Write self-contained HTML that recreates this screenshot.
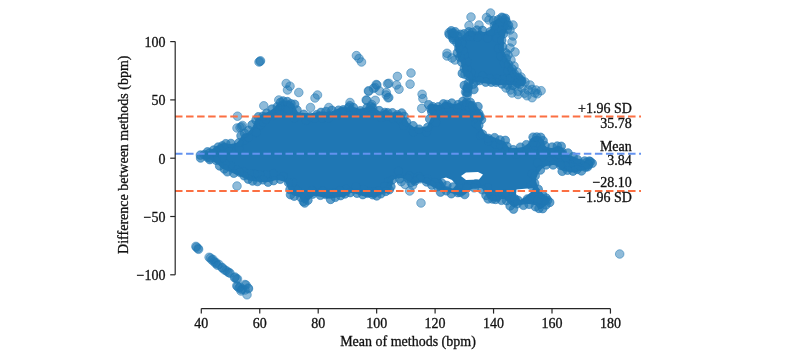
<!DOCTYPE html>
<html><head><meta charset="utf-8"><style>
html,body{margin:0;padding:0;background:#fff;width:800px;height:352px;overflow:hidden;}
svg{display:block;font-family:"Liberation Serif",serif;will-change:transform;}
</style></head><body>
<svg width="800" height="352" viewBox="0 0 800 352"><path d="M203.7,157.3 L211.1,160.1 L211.4,160.2 L211.7,160.4 L217.7,164.4 L218.0,164.6 L218.2,164.8 L221.8,168.4 L231.2,172.6 L241.2,176.6 L241.4,176.7 L248.9,180.5 L260.2,181.9 L269.6,181.9 L276.1,180.0 L276.5,179.9 L276.8,179.9 L277.1,179.9 L277.4,179.9 L277.8,180.0 L283.8,181.5 L284.1,181.6 L284.4,181.7 L284.6,181.8 L284.9,182.0 L285.1,182.2 L285.4,182.5 L285.6,182.7 L285.7,183.0 L285.9,183.3 L289.6,192.2 L292.6,195.2 L298.9,197.0 L299.1,197.1 L299.4,197.2 L299.7,197.4 L299.9,197.5 L300.2,197.7 L300.4,198.0 L300.5,198.2 L300.7,198.5 L303.5,203.4 L304.6,203.1 L308.1,200.5 L313.1,196.6 L313.3,196.4 L313.5,196.2 L313.8,196.1 L314.1,196.0 L314.4,195.9 L314.6,195.9 L314.9,195.9 L315.2,195.9 L315.5,195.9 L321.5,196.9 L321.7,197.0 L330.0,198.8 L338.3,197.0 L338.7,196.9 L339.0,196.9 L344.2,196.9 L350.5,193.3 L350.7,193.1 L351.0,193.0 L351.3,193.0 L351.6,192.9 L352.0,192.9 L352.3,192.9 L352.6,192.9 L352.9,193.0 L362.7,196.0 L368.5,196.9 L374.5,197.8 L381.6,194.2 L381.9,194.1 L382.1,194.0 L388.6,192.2 L391.2,190.2 L392.9,181.4 L393.0,181.1 L393.1,180.8 L393.2,180.5 L393.4,180.3 L393.6,180.0 L393.8,179.8 L394.0,179.6 L394.3,179.4 L394.5,179.2 L394.8,179.1 L395.1,179.0 L395.4,178.9 L400.4,177.9 L400.7,177.9 L401.0,177.9 L401.3,177.9 L401.6,177.9 L401.9,178.0 L402.2,178.1 L402.5,178.3 L414.1,184.5 L418.6,182.2 L418.9,182.1 L419.1,182.0 L419.4,181.9 L419.7,181.9 L420.0,181.9 L420.3,181.9 L420.6,181.9 L420.9,182.0 L421.2,182.1 L431.2,186.1 L431.4,186.2 L441.0,191.0 L450.6,192.9 L450.9,193.0 L460.0,195.7 L465.4,194.2 L469.8,189.8 L470.0,189.6 L470.2,189.4 L470.5,189.3 L470.8,189.1 L471.0,189.0 L471.3,189.0 L471.6,188.9 L479.6,187.9 L479.9,187.9 L480.2,187.9 L480.5,187.9 L480.8,188.0 L481.1,188.1 L481.4,188.2 L481.7,188.4 L481.9,188.5 L482.2,188.8 L482.4,189.0 L482.6,189.2 L482.7,189.5 L487.4,197.9 L491.2,201.0 L498.8,201.7 L500.8,199.8 L501.0,199.6 L501.3,199.4 L501.5,199.2 L501.8,199.1 L502.1,199.0 L502.4,198.9 L502.7,198.9 L503.0,198.9 L503.3,198.9 L503.6,198.9 L503.9,199.0 L504.2,199.1 L504.5,199.2 L504.7,199.4 L505.0,199.6 L505.2,199.8 L510.9,205.5 L514.1,207.4 L518.6,205.2 L518.9,205.1 L519.3,205.0 L519.6,204.9 L527.6,203.9 L527.9,203.9 L528.2,203.9 L528.5,203.9 L534.5,204.9 L534.8,205.0 L535.1,205.1 L535.4,205.2 L535.6,205.3 L535.9,205.5 L536.1,205.7 L536.3,205.9 L536.5,206.1 L538.6,208.9 L541.1,208.9 L546.0,205.6 L549.2,202.4 L549.8,200.0 L549.3,198.0 L545.4,195.7 L545.1,195.5 L544.8,195.2 L542.8,193.2 L542.6,192.9 L538.6,187.9 L538.4,187.7 L538.3,187.5 L538.1,187.2 L538.0,187.0 L536.0,181.0 L536.0,180.7 L535.9,180.4 L535.9,180.1 L535.9,179.8 L535.9,179.4 L536.0,179.1 L536.1,178.8 L538.1,173.8 L538.2,173.6 L538.3,173.4 L538.5,173.1 L541.5,169.1 L541.7,168.9 L542.0,168.6 L542.3,168.4 L545.3,166.4 L545.6,166.2 L545.9,166.1 L546.2,166.0 L546.5,165.9 L552.5,164.9 L552.8,164.9 L553.1,164.9 L553.4,164.9 L553.7,165.0 L554.0,165.0 L557.0,166.0 L557.3,166.1 L557.5,166.3 L557.8,166.4 L558.0,166.6 L558.2,166.8 L558.4,167.0 L558.6,167.3 L560.1,169.6 L562.9,171.0 L569.4,171.9 L569.5,171.9 L574.7,172.8 L580.0,171.0 L580.2,171.0 L587.3,169.2 L591.6,164.0 L591.8,163.8 L593.3,162.3 L590.4,161.1 L585.0,161.1 L584.7,161.1 L584.4,161.1 L584.1,161.0 L583.8,160.9 L578.8,158.9 L578.6,158.8 L574.8,156.9 L569.0,155.0 L568.7,154.9 L568.5,154.7 L568.2,154.6 L568.0,154.4 L567.8,154.2 L567.6,153.9 L563.7,149.1 L561.2,146.7 L558.1,145.4 L553.4,147.8 L553.1,147.9 L552.8,148.0 L552.5,148.1 L552.2,148.1 L551.9,148.1 L551.6,148.1 L551.2,148.0 L547.2,147.0 L546.9,146.9 L546.6,146.8 L546.4,146.7 L546.1,146.5 L545.9,146.3 L545.6,146.0 L545.4,145.8 L545.3,145.5 L545.1,145.2 L545.0,144.9 L544.9,144.6 L544.1,140.5 L542.0,138.4 L539.0,136.1 L534.7,136.1 L532.1,137.4 L528.6,142.7 L528.4,143.0 L528.1,143.3 L527.9,143.5 L523.9,146.5 L523.6,146.7 L523.4,146.8 L523.1,146.9 L522.8,147.0 L522.5,147.1 L516.5,148.1 L516.3,148.1 L516.0,148.1 L511.0,148.1 L510.7,148.1 L510.4,148.1 L510.1,148.0 L509.8,147.9 L509.5,147.8 L509.3,147.6 L509.0,147.4 L508.8,147.2 L508.6,147.0 L508.4,146.7 L504.9,141.5 L485.8,133.9 L485.5,133.8 L485.3,133.6 L485.0,133.4 L484.8,133.2 L484.6,132.9 L484.4,132.7 L484.2,132.4 L481.2,126.4 L481.1,126.1 L481.0,125.8 L480.9,125.5 L480.9,125.2 L480.9,124.8 L480.9,124.5 L481.0,124.2 L481.1,123.9 L483.7,117.0 L482.2,113.5 L477.5,106.9 L473.2,101.7 L465.3,99.3 L456.4,103.8 L456.1,103.9 L455.8,104.0 L455.6,104.1 L455.3,104.1 L455.0,104.1 L454.7,104.1 L454.4,104.1 L454.1,104.0 L445.5,101.4 L440.7,104.6 L440.5,104.8 L440.2,104.9 L439.8,105.0 L439.5,105.1 L439.2,105.1 L438.9,105.1 L438.6,105.1 L432.4,104.2 L429.4,105.4 L428.3,108.1 L431.0,116.0 L431.0,116.3 L431.1,116.6 L431.1,116.9 L431.1,117.2 L431.1,117.5 L431.0,117.8 L430.9,118.0 L430.8,118.3 L427.8,124.8 L427.7,125.1 L427.5,125.3 L427.4,125.5 L427.2,125.8 L426.9,125.9 L426.7,126.1 L426.4,126.3 L426.2,126.4 L425.9,126.5 L425.6,126.6 L420.6,127.6 L420.3,127.6 L420.0,127.6 L419.7,127.6 L414.7,127.1 L414.4,127.1 L414.1,127.0 L413.9,126.9 L413.6,126.8 L413.4,126.7 L413.1,126.5 L409.1,123.5 L408.9,123.3 L408.7,123.1 L408.5,122.9 L408.3,122.6 L405.4,117.7 L402.8,113.8 L399.3,111.7 L391.3,112.6 L391.0,112.6 L390.7,112.6 L390.4,112.6 L390.1,112.5 L389.8,112.4 L389.5,112.3 L389.3,112.1 L389.0,111.9 L388.8,111.7 L386.4,109.3 L382.4,111.3 L382.1,111.4 L381.8,111.5 L381.5,111.6 L381.2,111.6 L380.9,111.6 L380.5,111.6 L380.2,111.5 L379.9,111.4 L379.6,111.3 L379.3,111.1 L379.1,111.0 L371.6,105.2 L367.4,107.3 L367.1,107.4 L366.8,107.5 L366.5,107.6 L360.5,108.6 L360.2,108.6 L360.0,108.6 L359.7,108.6 L359.4,108.6 L359.1,108.5 L352.1,106.5 L351.9,106.4 L351.6,106.3 L351.4,106.2 L351.1,106.0 L349.6,104.9 L348.5,106.4 L348.3,106.6 L348.1,106.8 L347.8,107.0 L347.5,107.2 L347.2,107.4 L346.9,107.5 L346.6,107.6 L346.3,107.6 L346.0,107.6 L340.6,107.6 L331.2,111.4 L330.9,111.5 L330.6,111.6 L330.3,111.6 L330.0,111.6 L320.3,111.6 L310.6,113.6 L310.3,113.6 L310.0,113.6 L309.7,113.6 L299.7,112.6 L299.4,112.6 L299.1,112.5 L298.8,112.4 L298.5,112.2 L298.2,112.1 L298.0,111.9 L297.8,111.7 L297.5,111.4 L297.4,111.2 L297.2,110.9 L293.6,103.6 L289.1,100.6 L281.1,100.6 L277.3,103.7 L274.5,107.4 L274.3,107.6 L274.1,107.8 L273.9,108.0 L269.9,111.0 L269.6,111.2 L269.3,111.3 L269.0,111.5 L263.3,113.4 L258.9,116.0 L255.7,119.3 L252.9,126.2 L252.8,126.4 L252.6,126.7 L252.4,126.9 L248.4,131.9 L248.2,132.2 L248.0,132.4 L247.8,132.6 L247.5,132.7 L247.2,132.9 L246.9,133.0 L246.6,133.1 L243.0,133.8 L240.7,137.6 L240.5,137.9 L237.5,141.9 L237.3,142.1 L237.1,142.3 L236.8,142.5 L236.5,142.7 L236.2,142.9 L235.9,143.0 L235.6,143.1 L230.6,144.1 L230.3,144.1 L230.1,144.1 L229.8,144.1 L229.5,144.1 L229.2,144.0 L224.1,142.7 L220.3,143.9 L215.7,146.6 L211.9,149.5 L211.6,149.7 L206.9,152.5 L203.4,156.0 L203.0,156.6 Z M466.0,172.5 L478.0,172.0 L483.0,174.5 L479.0,179.5 L466.0,180.0 L461.0,176.0 Z M533.0,188.0 L531.0,192.0 L525.0,197.0 L520.0,200.0 L516.0,195.0 L516.5,189.5 Z M446.0,177.5 L452.0,180.0 L456.0,185.0 L453.0,188.5 L446.0,187.0 L441.0,179.0 Z" fill="#1f77b4" fill-rule="evenodd"/><path d="M450.6,32.4 L450.1,33.3 L452.9,35.6 L453.2,35.8 L453.4,36.0 L453.6,36.2 L453.7,36.5 L453.9,36.7 L454.0,37.0 L454.0,37.3 L454.1,37.6 L455.1,45.5 L456.1,51.4 L457.9,58.6 L460.5,62.1 L460.7,62.4 L460.8,62.6 L460.9,62.9 L461.0,63.2 L461.1,63.5 L462.0,69.3 L463.7,75.2 L467.9,78.6 L468.2,78.8 L468.4,79.0 L468.6,79.2 L468.7,79.5 L468.9,79.7 L469.0,80.0 L469.0,80.3 L469.1,80.6 L469.1,80.9 L469.1,81.2 L469.1,81.5 L468.1,87.5 L468.1,87.6 L467.3,91.6 L467.7,92.4 L467.7,92.4 L469.1,88.8 L469.2,88.6 L469.4,88.3 L469.6,88.1 L473.6,83.1 L473.8,82.8 L474.0,82.6 L474.2,82.4 L474.5,82.3 L474.7,82.1 L475.0,82.0 L475.3,82.0 L475.6,81.9 L475.9,81.9 L476.2,81.9 L476.5,81.9 L482.5,82.9 L496.2,84.9 L517.6,84.9 L523.7,83.4 L524.4,81.5 L521.6,78.0 L516.6,72.0 L516.5,71.8 L511.5,64.8 L511.4,64.7 L507.4,58.7 L507.3,58.5 L507.1,58.2 L504.1,51.2 L504.0,50.9 L503.9,50.6 L503.9,50.3 L503.9,50.0 L503.9,40.0 L503.9,39.7 L503.9,39.4 L504.0,39.1 L506.0,32.1 L506.1,31.9 L506.2,31.6 L508.8,26.5 L508.1,21.5 L504.7,18.1 L498.8,18.1 L493.5,21.2 L490.9,28.1 L490.8,28.4 L490.7,28.6 L490.5,28.9 L490.3,29.1 L490.1,29.3 L489.9,29.5 L489.6,29.6 L489.4,29.8 L485.4,31.8 L485.1,31.9 L484.8,32.0 L484.5,32.1 L484.2,32.1 L483.9,32.1 L483.5,32.1 L483.2,32.0 L482.9,31.9 L482.6,31.8 L482.3,31.6 L479.8,30.1 L477.4,31.3 L477.1,31.4 L476.8,31.5 L476.5,31.6 L476.2,31.6 L475.9,31.6 L475.6,31.6 L475.3,31.5 L475.0,31.5 L470.2,29.9 L466.8,31.6 L462.2,36.2 L462.0,36.4 L461.7,36.6 L461.5,36.8 L461.2,36.9 L460.9,37.0 L460.6,37.1 L460.3,37.1 L460.0,37.1 L459.7,37.1 L459.4,37.1 L459.1,37.0 L458.8,36.9 L458.5,36.8 L458.3,36.6 L458.0,36.4 L457.8,36.2 L454.5,32.9 Z" fill="#1f77b4" fill-rule="evenodd"/><g fill="#1f77b4" fill-opacity="0.7" stroke="#1f77b4" stroke-opacity="0.6" stroke-width="1"><circle cx="207.4" cy="157.3" r="4.3"/><circle cx="210.0" cy="158.0" r="4.3"/><circle cx="213.9" cy="153.5" r="4.3"/><circle cx="219.7" cy="150.6" r="4.3"/><circle cx="223.3" cy="150.4" r="4.3"/><circle cx="228.1" cy="148.9" r="4.3"/><circle cx="239.1" cy="148.4" r="4.3"/><circle cx="244.8" cy="140.1" r="4.3"/><circle cx="248.5" cy="137.5" r="4.3"/><circle cx="256.2" cy="132.5" r="4.3"/><circle cx="260.8" cy="125.0" r="4.3"/><circle cx="262.8" cy="122.3" r="4.3"/><circle cx="265.9" cy="119.4" r="4.3"/><circle cx="273.1" cy="115.3" r="4.3"/><circle cx="279.7" cy="110.6" r="4.3"/><circle cx="282.3" cy="106.6" r="4.3"/><circle cx="285.6" cy="107.1" r="4.3"/><circle cx="287.6" cy="108.6" r="4.3"/><circle cx="288.7" cy="109.4" r="4.3"/><circle cx="294.3" cy="118.0" r="4.3"/><circle cx="306.1" cy="120.3" r="4.3"/><circle cx="314.5" cy="118.5" r="4.3"/><circle cx="322.1" cy="118.1" r="4.3"/><circle cx="328.7" cy="118.0" r="4.3"/><circle cx="337.0" cy="115.4" r="4.3"/><circle cx="343.1" cy="111.4" r="4.3"/><circle cx="348.4" cy="113.2" r="4.3"/><circle cx="350.2" cy="113.8" r="4.3"/><circle cx="356.9" cy="113.7" r="4.3"/><circle cx="367.0" cy="111.9" r="4.3"/><circle cx="370.5" cy="110.5" r="4.3"/><circle cx="372.4" cy="115.3" r="4.3"/><circle cx="381.4" cy="117.6" r="4.3"/><circle cx="387.8" cy="116.5" r="4.3"/><circle cx="393.5" cy="118.8" r="4.3"/><circle cx="398.0" cy="118.2" r="4.3"/><circle cx="400.1" cy="119.9" r="4.3"/><circle cx="403.6" cy="125.6" r="4.3"/><circle cx="413.2" cy="131.9" r="4.3"/><circle cx="426.7" cy="132.1" r="4.3"/><circle cx="435.9" cy="122.5" r="4.3"/><circle cx="435.5" cy="112.2" r="4.3"/><circle cx="432.5" cy="108.8" r="4.3"/><circle cx="433.8" cy="111.4" r="4.3"/><circle cx="438.8" cy="110.8" r="4.3"/><circle cx="444.7" cy="107.6" r="4.3"/><circle cx="448.9" cy="108.2" r="4.3"/><circle cx="457.8" cy="108.2" r="4.3"/><circle cx="464.3" cy="105.9" r="4.3"/><circle cx="467.2" cy="105.4" r="4.3"/><circle cx="469.4" cy="107.4" r="4.3"/><circle cx="473.6" cy="110.3" r="4.3"/><circle cx="474.9" cy="115.7" r="4.3"/><circle cx="477.9" cy="117.3" r="4.3"/><circle cx="475.8" cy="123.4" r="4.3"/><circle cx="480.6" cy="135.7" r="4.3"/><circle cx="488.7" cy="141.0" r="4.3"/><circle cx="495.8" cy="144.5" r="4.3"/><circle cx="500.6" cy="145.3" r="4.3"/><circle cx="505.3" cy="150.5" r="4.3"/><circle cx="516.1" cy="154.4" r="4.3"/><circle cx="526.2" cy="151.0" r="4.3"/><circle cx="535.5" cy="145.7" r="4.3"/><circle cx="537.5" cy="142.9" r="4.3"/><circle cx="537.3" cy="142.7" r="4.3"/><circle cx="537.7" cy="142.7" r="4.3"/><circle cx="542.0" cy="149.5" r="4.3"/><circle cx="554.2" cy="152.1" r="4.3"/><circle cx="558.1" cy="153.4" r="4.3"/><circle cx="559.2" cy="154.4" r="4.3"/><circle cx="566.1" cy="157.9" r="4.3"/><circle cx="573.8" cy="162.3" r="4.3"/><circle cx="581.3" cy="165.9" r="4.3"/><circle cx="587.6" cy="166.8" r="4.3"/><circle cx="588.4" cy="164.3" r="4.3"/><circle cx="586.9" cy="162.2" r="4.3"/><circle cx="585.2" cy="165.3" r="4.3"/><circle cx="580.2" cy="163.4" r="4.3"/><circle cx="575.5" cy="165.6" r="4.3"/><circle cx="570.0" cy="166.7" r="4.3"/><circle cx="565.5" cy="166.1" r="4.3"/><circle cx="559.6" cy="162.9" r="4.3"/><circle cx="549.7" cy="161.0" r="4.3"/><circle cx="537.4" cy="162.9" r="4.3"/><circle cx="532.0" cy="173.7" r="4.3"/><circle cx="530.9" cy="185.3" r="4.3"/><circle cx="536.9" cy="193.7" r="4.3"/><circle cx="542.0" cy="200.2" r="4.3"/><circle cx="544.6" cy="200.3" r="4.3"/><circle cx="543.3" cy="199.8" r="4.3"/><circle cx="540.6" cy="201.0" r="4.3"/><circle cx="540.3" cy="203.6" r="4.3"/><circle cx="537.7" cy="199.9" r="4.3"/><circle cx="527.4" cy="199.0" r="4.3"/><circle cx="518.0" cy="200.4" r="4.3"/><circle cx="515.2" cy="200.6" r="4.3"/><circle cx="515.0" cy="198.9" r="4.3"/><circle cx="504.8" cy="193.8" r="4.3"/><circle cx="496.7" cy="195.6" r="4.3"/><circle cx="494.3" cy="195.1" r="4.3"/><circle cx="491.1" cy="194.2" r="4.3"/><circle cx="487.6" cy="187.6" r="4.3"/><circle cx="475.9" cy="184.0" r="4.3"/><circle cx="465.8" cy="187.0" r="4.3"/><circle cx="462.2" cy="190.4" r="4.3"/><circle cx="459.4" cy="188.4" r="4.3"/><circle cx="453.1" cy="187.0" r="4.3"/><circle cx="446.9" cy="185.5" r="4.3"/><circle cx="441.8" cy="183.1" r="4.3"/><circle cx="435.1" cy="182.3" r="4.3"/><circle cx="427.0" cy="178.7" r="4.3"/><circle cx="418.7" cy="176.2" r="4.3"/><circle cx="413.5" cy="178.3" r="4.3"/><circle cx="409.4" cy="175.7" r="4.3"/><circle cx="398.5" cy="171.1" r="4.3"/><circle cx="388.5" cy="181.5" r="4.3"/><circle cx="386.1" cy="186.4" r="4.3"/><circle cx="384.6" cy="186.4" r="4.3"/><circle cx="378.8" cy="190.9" r="4.3"/><circle cx="373.6" cy="192.1" r="4.3"/><circle cx="369.3" cy="191.6" r="4.3"/><circle cx="363.4" cy="189.4" r="4.3"/><circle cx="356.0" cy="186.9" r="4.3"/><circle cx="346.0" cy="189.0" r="4.3"/><circle cx="339.8" cy="190.5" r="4.3"/><circle cx="334.2" cy="193.1" r="4.3"/><circle cx="328.5" cy="193.3" r="4.3"/><circle cx="322.6" cy="190.9" r="4.3"/><circle cx="312.2" cy="190.6" r="4.3"/><circle cx="304.1" cy="195.2" r="4.3"/><circle cx="304.9" cy="198.3" r="4.3"/><circle cx="305.0" cy="195.6" r="4.3"/><circle cx="297.7" cy="190.7" r="4.3"/><circle cx="295.4" cy="189.0" r="4.3"/><circle cx="292.8" cy="182.4" r="4.3"/><circle cx="283.2" cy="176.3" r="4.3"/><circle cx="273.3" cy="173.5" r="4.3"/><circle cx="265.8" cy="174.7" r="4.3"/><circle cx="259.9" cy="174.7" r="4.3"/><circle cx="254.4" cy="174.0" r="4.3"/><circle cx="249.5" cy="173.2" r="4.3"/><circle cx="243.3" cy="171.6" r="4.3"/><circle cx="236.6" cy="169.8" r="4.3"/><circle cx="230.5" cy="165.6" r="4.3"/><circle cx="225.3" cy="163.7" r="4.3"/><circle cx="222.1" cy="157.9" r="4.3"/><circle cx="214.0" cy="153.8" r="4.3"/><circle cx="207.5" cy="151.9" r="4.3"/><circle cx="452.8" cy="37.7" r="4.3"/><circle cx="453.3" cy="39.5" r="4.3"/><circle cx="461.8" cy="42.2" r="4.3"/><circle cx="470.2" cy="36.4" r="4.3"/><circle cx="473.1" cy="36.8" r="4.3"/><circle cx="477.7" cy="37.0" r="4.3"/><circle cx="487.5" cy="38.1" r="4.3"/><circle cx="495.5" cy="28.7" r="4.3"/><circle cx="499.1" cy="25.2" r="4.3"/><circle cx="500.8" cy="23.4" r="4.3"/><circle cx="503.3" cy="22.5" r="4.3"/><circle cx="503.0" cy="24.0" r="4.3"/><circle cx="503.5" cy="26.1" r="4.3"/><circle cx="501.7" cy="30.1" r="4.3"/><circle cx="497.0" cy="38.3" r="4.3"/><circle cx="498.3" cy="48.2" r="4.3"/><circle cx="500.8" cy="56.2" r="4.3"/><circle cx="504.1" cy="63.6" r="4.3"/><circle cx="507.9" cy="70.9" r="4.3"/><circle cx="513.4" cy="76.5" r="4.3"/><circle cx="516.4" cy="82.3" r="4.3"/><circle cx="519.4" cy="80.9" r="4.3"/><circle cx="519.0" cy="78.2" r="4.3"/><circle cx="515.9" cy="79.1" r="4.3"/><circle cx="509.9" cy="78.5" r="4.3"/><circle cx="502.5" cy="79.3" r="4.3"/><circle cx="496.7" cy="78.6" r="4.3"/><circle cx="490.1" cy="78.5" r="4.3"/><circle cx="482.4" cy="75.9" r="4.3"/><circle cx="470.4" cy="77.5" r="4.3"/><circle cx="464.3" cy="85.4" r="4.3"/><circle cx="468.3" cy="87.0" r="4.3"/><circle cx="473.9" cy="89.5" r="4.3"/><circle cx="476.4" cy="80.9" r="4.3"/><circle cx="471.2" cy="72.7" r="4.3"/><circle cx="467.5" cy="68.7" r="4.3"/><circle cx="467.3" cy="61.5" r="4.3"/><circle cx="464.5" cy="54.7" r="4.3"/><circle cx="463.2" cy="50.6" r="4.3"/><circle cx="461.9" cy="43.7" r="4.3"/><circle cx="460.5" cy="34.3" r="4.3"/><circle cx="455.2" cy="31.8" r="4.3"/><circle cx="200.6" cy="158.0" r="4.3"/><circle cx="204.1" cy="154.7" r="4.3"/><circle cx="209.5" cy="153.0" r="4.3"/><circle cx="213.5" cy="150.1" r="4.3"/><circle cx="218.2" cy="147.1" r="4.3"/><circle cx="222.4" cy="145.9" r="4.3"/><circle cx="225.8" cy="143.7" r="4.3"/><circle cx="230.9" cy="143.5" r="4.3"/><circle cx="238.9" cy="142.8" r="4.3"/><circle cx="241.0" cy="135.7" r="4.3"/><circle cx="244.5" cy="133.2" r="4.3"/><circle cx="248.7" cy="130.3" r="4.3"/><circle cx="252.0" cy="124.9" r="4.3"/><circle cx="256.0" cy="120.2" r="4.3"/><circle cx="258.4" cy="116.8" r="4.3"/><circle cx="263.0" cy="116.3" r="4.3"/><circle cx="266.8" cy="113.2" r="4.3"/><circle cx="272.0" cy="109.1" r="4.3"/><circle cx="277.3" cy="106.8" r="4.3"/><circle cx="280.6" cy="102.3" r="4.3"/><circle cx="283.1" cy="101.0" r="4.3"/><circle cx="287.3" cy="101.6" r="4.3"/><circle cx="291.0" cy="103.8" r="4.3"/><circle cx="294.6" cy="104.3" r="4.3"/><circle cx="297.0" cy="110.0" r="4.3"/><circle cx="303.8" cy="114.3" r="4.3"/><circle cx="310.0" cy="116.9" r="4.3"/><circle cx="316.7" cy="114.7" r="4.3"/><circle cx="321.0" cy="112.4" r="4.3"/><circle cx="325.9" cy="111.5" r="4.3"/><circle cx="331.9" cy="110.3" r="4.3"/><circle cx="338.6" cy="110.2" r="4.3"/><circle cx="343.2" cy="109.9" r="4.3"/><circle cx="348.7" cy="107.5" r="4.3"/><circle cx="349.8" cy="105.7" r="4.3"/><circle cx="353.4" cy="107.6" r="4.3"/><circle cx="360.4" cy="110.8" r="4.3"/><circle cx="367.0" cy="107.7" r="4.3"/><circle cx="370.5" cy="107.1" r="4.3"/><circle cx="372.8" cy="108.1" r="4.3"/><circle cx="379.2" cy="110.6" r="4.3"/><circle cx="384.9" cy="112.5" r="4.3"/><circle cx="387.6" cy="112.7" r="4.3"/><circle cx="392.4" cy="112.8" r="4.3"/><circle cx="397.5" cy="114.7" r="4.3"/><circle cx="401.7" cy="113.0" r="4.3"/><circle cx="404.1" cy="116.3" r="4.3"/><circle cx="406.5" cy="122.0" r="4.3"/><circle cx="413.1" cy="125.7" r="4.3"/><circle cx="419.1" cy="129.2" r="4.3"/><circle cx="427.7" cy="127.4" r="4.3"/><circle cx="429.7" cy="118.9" r="4.3"/><circle cx="431.8" cy="112.0" r="4.3"/><circle cx="430.9" cy="108.9" r="4.3"/><circle cx="428.7" cy="104.7" r="4.3"/><circle cx="432.8" cy="106.7" r="4.3"/><circle cx="438.2" cy="106.8" r="4.3"/><circle cx="443.4" cy="103.9" r="4.3"/><circle cx="446.9" cy="104.5" r="4.3"/><circle cx="451.8" cy="103.1" r="4.3"/><circle cx="458.1" cy="104.6" r="4.3"/><circle cx="462.9" cy="101.4" r="4.3"/><circle cx="466.7" cy="102.0" r="4.3"/><circle cx="470.2" cy="102.3" r="4.3"/><circle cx="472.5" cy="105.7" r="4.3"/><circle cx="478.0" cy="106.6" r="4.3"/><circle cx="478.8" cy="113.5" r="4.3"/><circle cx="480.3" cy="116.7" r="4.3"/><circle cx="481.5" cy="119.6" r="4.3"/><circle cx="478.8" cy="125.4" r="4.3"/><circle cx="482.5" cy="134.2" r="4.3"/><circle cx="488.3" cy="138.4" r="4.3"/><circle cx="494.6" cy="137.7" r="4.3"/><circle cx="500.0" cy="140.0" r="4.3"/><circle cx="505.3" cy="140.4" r="4.3"/><circle cx="507.0" cy="146.4" r="4.3"/><circle cx="513.2" cy="149.7" r="4.3"/><circle cx="520.4" cy="147.2" r="4.3"/><circle cx="526.4" cy="144.7" r="4.3"/><circle cx="533.1" cy="142.6" r="4.3"/><circle cx="533.1" cy="137.2" r="4.3"/><circle cx="536.8" cy="137.1" r="4.3"/><circle cx="540.6" cy="137.3" r="4.3"/><circle cx="543.1" cy="140.7" r="4.3"/><circle cx="545.0" cy="145.7" r="4.3"/><circle cx="552.1" cy="147.1" r="4.3"/><circle cx="557.3" cy="146.1" r="4.3"/><circle cx="561.2" cy="146.3" r="4.3"/><circle cx="562.2" cy="152.2" r="4.3"/><circle cx="568.0" cy="153.0" r="4.3"/><circle cx="573.2" cy="156.7" r="4.3"/><circle cx="577.6" cy="159.7" r="4.3"/><circle cx="584.7" cy="161.0" r="4.3"/><circle cx="589.4" cy="161.1" r="4.3"/><circle cx="592.2" cy="163.3" r="4.3"/><circle cx="590.3" cy="161.8" r="4.3"/><circle cx="588.5" cy="164.8" r="4.3"/><circle cx="585.5" cy="167.1" r="4.3"/><circle cx="581.5" cy="170.9" r="4.3"/><circle cx="577.0" cy="169.4" r="4.3"/><circle cx="573.0" cy="171.1" r="4.3"/><circle cx="567.5" cy="170.2" r="4.3"/><circle cx="562.2" cy="171.3" r="4.3"/><circle cx="560.5" cy="165.3" r="4.3"/><circle cx="553.1" cy="164.9" r="4.3"/><circle cx="546.1" cy="164.9" r="4.3"/><circle cx="540.4" cy="170.0" r="4.3"/><circle cx="535.2" cy="175.8" r="4.3"/><circle cx="534.6" cy="183.1" r="4.3"/><circle cx="538.2" cy="189.2" r="4.3"/><circle cx="542.4" cy="194.6" r="4.3"/><circle cx="546.2" cy="198.1" r="4.3"/><circle cx="547.6" cy="200.3" r="4.3"/><circle cx="549.7" cy="202.4" r="4.3"/><circle cx="546.0" cy="204.9" r="4.3"/><circle cx="542.7" cy="208.6" r="4.3"/><circle cx="539.0" cy="208.4" r="4.3"/><circle cx="535.4" cy="206.7" r="4.3"/><circle cx="529.1" cy="204.3" r="4.3"/><circle cx="523.5" cy="205.3" r="4.3"/><circle cx="517.0" cy="203.8" r="4.3"/><circle cx="513.5" cy="209.1" r="4.3"/><circle cx="510.1" cy="205.9" r="4.3"/><circle cx="506.6" cy="200.6" r="4.3"/><circle cx="501.5" cy="200.3" r="4.3"/><circle cx="495.6" cy="199.4" r="4.3"/><circle cx="492.5" cy="199.0" r="4.3"/><circle cx="488.2" cy="198.9" r="4.3"/><circle cx="486.0" cy="195.4" r="4.3"/><circle cx="482.2" cy="189.8" r="4.3"/><circle cx="474.2" cy="187.8" r="4.3"/><circle cx="467.0" cy="187.8" r="4.3"/><circle cx="464.7" cy="194.5" r="4.3"/><circle cx="460.3" cy="192.4" r="4.3"/><circle cx="457.9" cy="192.6" r="4.3"/><circle cx="451.3" cy="193.7" r="4.3"/><circle cx="446.4" cy="190.8" r="4.3"/><circle cx="440.5" cy="192.1" r="4.3"/><circle cx="437.4" cy="186.7" r="4.3"/><circle cx="431.8" cy="185.1" r="4.3"/><circle cx="426.6" cy="181.9" r="4.3"/><circle cx="419.9" cy="178.8" r="4.3"/><circle cx="414.8" cy="181.1" r="4.3"/><circle cx="411.0" cy="182.4" r="4.3"/><circle cx="407.8" cy="178.2" r="4.3"/><circle cx="399.8" cy="178.9" r="4.3"/><circle cx="392.1" cy="180.0" r="4.3"/><circle cx="390.9" cy="186.6" r="4.3"/><circle cx="389.3" cy="189.7" r="4.3"/><circle cx="385.7" cy="191.4" r="4.3"/><circle cx="380.9" cy="193.7" r="4.3"/><circle cx="376.7" cy="195.9" r="4.3"/><circle cx="372.7" cy="194.7" r="4.3"/><circle cx="367.6" cy="193.3" r="4.3"/><circle cx="362.8" cy="194.6" r="4.3"/><circle cx="357.0" cy="193.2" r="4.3"/><circle cx="350.2" cy="192.6" r="4.3"/><circle cx="345.0" cy="193.9" r="4.3"/><circle cx="340.6" cy="195.6" r="4.3"/><circle cx="335.3" cy="197.3" r="4.3"/><circle cx="330.6" cy="199.4" r="4.3"/><circle cx="325.9" cy="194.5" r="4.3"/><circle cx="320.4" cy="195.3" r="4.3"/><circle cx="312.6" cy="194.1" r="4.3"/><circle cx="307.9" cy="200.2" r="4.3"/><circle cx="304.7" cy="203.0" r="4.3"/><circle cx="303.4" cy="201.4" r="4.3"/><circle cx="300.8" cy="197.3" r="4.3"/><circle cx="294.2" cy="196.1" r="4.3"/><circle cx="290.5" cy="194.7" r="4.3"/><circle cx="290.0" cy="189.6" r="4.3"/><circle cx="288.5" cy="182.6" r="4.3"/><circle cx="280.2" cy="179.3" r="4.3"/><circle cx="273.6" cy="180.6" r="4.3"/><circle cx="268.1" cy="182.1" r="4.3"/><circle cx="262.9" cy="179.8" r="4.3"/><circle cx="257.5" cy="181.5" r="4.3"/><circle cx="252.6" cy="181.0" r="4.3"/><circle cx="248.3" cy="179.1" r="4.3"/><circle cx="244.1" cy="175.7" r="4.3"/><circle cx="239.7" cy="172.2" r="4.3"/><circle cx="233.8" cy="173.2" r="4.3"/><circle cx="227.3" cy="171.8" r="4.3"/><circle cx="224.3" cy="168.9" r="4.3"/><circle cx="219.6" cy="165.9" r="4.3"/><circle cx="216.1" cy="160.3" r="4.3"/><circle cx="209.8" cy="159.6" r="4.3"/><circle cx="206.3" cy="155.4" r="4.3"/><circle cx="200.4" cy="155.1" r="4.3"/><circle cx="449.2" cy="34.4" r="4.3"/><circle cx="452.4" cy="35.5" r="4.3"/><circle cx="458.0" cy="36.2" r="4.3"/><circle cx="464.1" cy="33.8" r="4.3"/><circle cx="468.8" cy="31.8" r="4.3"/><circle cx="472.3" cy="32.4" r="4.3"/><circle cx="476.9" cy="30.1" r="4.3"/><circle cx="482.5" cy="30.4" r="4.3"/><circle cx="490.2" cy="31.8" r="4.3"/><circle cx="494.4" cy="25.7" r="4.3"/><circle cx="493.5" cy="20.5" r="4.3"/><circle cx="498.4" cy="19.7" r="4.3"/><circle cx="501.8" cy="17.3" r="4.3"/><circle cx="505.4" cy="18.3" r="4.3"/><circle cx="506.3" cy="21.7" r="4.3"/><circle cx="508.6" cy="25.3" r="4.3"/><circle cx="507.5" cy="29.1" r="4.3"/><circle cx="503.7" cy="33.7" r="4.3"/><circle cx="501.7" cy="40.3" r="4.3"/><circle cx="502.6" cy="46.6" r="4.3"/><circle cx="505.8" cy="52.8" r="4.3"/><circle cx="506.3" cy="58.5" r="4.3"/><circle cx="508.3" cy="64.3" r="4.3"/><circle cx="512.2" cy="68.9" r="4.3"/><circle cx="514.4" cy="73.8" r="4.3"/><circle cx="518.7" cy="78.1" r="4.3"/><circle cx="521.7" cy="80.8" r="4.3"/><circle cx="521.7" cy="81.6" r="4.3"/><circle cx="520.7" cy="81.6" r="4.3"/><circle cx="517.7" cy="83.1" r="4.3"/><circle cx="512.7" cy="85.5" r="4.3"/><circle cx="507.4" cy="85.1" r="4.3"/><circle cx="502.0" cy="84.0" r="4.3"/><circle cx="496.0" cy="82.2" r="4.3"/><circle cx="491.4" cy="82.2" r="4.3"/><circle cx="485.7" cy="82.1" r="4.3"/><circle cx="479.6" cy="80.5" r="4.3"/><circle cx="473.4" cy="84.1" r="4.3"/><circle cx="467.0" cy="88.0" r="4.3"/><circle cx="467.7" cy="92.6" r="4.3"/><circle cx="466.6" cy="92.4" r="4.3"/><circle cx="467.7" cy="88.4" r="4.3"/><circle cx="468.3" cy="83.3" r="4.3"/><circle cx="468.2" cy="75.8" r="4.3"/><circle cx="462.3" cy="73.4" r="4.3"/><circle cx="464.3" cy="68.6" r="4.3"/><circle cx="461.7" cy="62.1" r="4.3"/><circle cx="460.0" cy="57.1" r="4.3"/><circle cx="457.3" cy="52.9" r="4.3"/><circle cx="458.9" cy="48.0" r="4.3"/><circle cx="456.9" cy="42.7" r="4.3"/><circle cx="455.0" cy="35.2" r="4.3"/><circle cx="452.2" cy="33.0" r="4.3"/><circle cx="451.3" cy="30.8" r="4.3"/></g><g fill="#1f77b4" fill-opacity="0.5" stroke="#1f77b4" stroke-opacity="0.5" stroke-width="1"><circle cx="260.0" cy="61.5" r="4.3"/><circle cx="465.5" cy="92.0" r="4.3"/><circle cx="467.0" cy="95.5" r="4.3"/><circle cx="510.4" cy="90.0" r="4.3"/><circle cx="518.1" cy="91.3" r="4.3"/><circle cx="518.1" cy="94.5" r="4.3"/><circle cx="524.5" cy="93.2" r="4.3"/><circle cx="527.0" cy="95.8" r="4.3"/><circle cx="532.1" cy="89.4" r="4.3"/><circle cx="532.1" cy="97.7" r="4.3"/><circle cx="537.3" cy="93.8" r="4.3"/><circle cx="541.1" cy="90.7" r="4.3"/><circle cx="536.0" cy="90.0" r="4.3"/><circle cx="528.0" cy="90.0" r="4.3"/><circle cx="522.0" cy="88.0" r="4.3"/><circle cx="515.0" cy="86.0" r="4.3"/><circle cx="525.0" cy="82.0" r="4.3"/><circle cx="521.0" cy="77.0" r="4.3"/><circle cx="517.0" cy="72.0" r="4.3"/><circle cx="514.0" cy="66.0" r="4.3"/><circle cx="511.0" cy="60.0" r="4.3"/><circle cx="508.0" cy="55.0" r="4.3"/><circle cx="520.0" cy="84.0" r="4.3"/><circle cx="530.0" cy="85.0" r="4.3"/><circle cx="535.0" cy="93.0" r="4.3"/><circle cx="512.0" cy="93.0" r="4.3"/><circle cx="506.0" cy="88.0" r="4.3"/><circle cx="510.0" cy="30.0" r="4.3"/><circle cx="513.0" cy="36.0" r="4.3"/><circle cx="512.0" cy="42.0" r="4.3"/><circle cx="510.0" cy="48.0" r="4.3"/><circle cx="515.0" cy="52.0" r="4.3"/><circle cx="507.0" cy="25.0" r="4.3"/><circle cx="513.0" cy="25.0" r="4.3"/><circle cx="505.0" cy="20.0" r="4.3"/><circle cx="500.0" cy="22.0" r="4.3"/><circle cx="503.0" cy="18.0" r="4.3"/><circle cx="405.0" cy="184.4" r="4.3"/><circle cx="412.5" cy="185.3" r="4.3"/><circle cx="409.7" cy="191.0" r="4.3"/><circle cx="401.3" cy="181.6" r="4.3"/><circle cx="259.0" cy="62.0" r="4.3"/><circle cx="260.5" cy="60.8" r="4.3"/><circle cx="356.4" cy="55.6" r="4.3"/><circle cx="359.0" cy="58.5" r="4.3"/><circle cx="361.5" cy="62.0" r="4.3"/><circle cx="286.2" cy="83.5" r="4.3"/><circle cx="290.0" cy="86.2" r="4.3"/><circle cx="287.5" cy="90.0" r="4.3"/><circle cx="298.8" cy="92.5" r="4.3"/><circle cx="317.5" cy="95.0" r="4.3"/><circle cx="315.0" cy="98.0" r="4.3"/><circle cx="263.8" cy="105.8" r="4.3"/><circle cx="278.8" cy="100.0" r="4.3"/><circle cx="237.5" cy="116.2" r="4.3"/><circle cx="241.5" cy="126.8" r="4.3"/><circle cx="240.0" cy="127.5" r="4.3"/><circle cx="242.5" cy="125.5" r="4.3"/><circle cx="237.0" cy="128.0" r="4.3"/><circle cx="310.5" cy="107.5" r="4.3"/><circle cx="328.8" cy="107.5" r="4.3"/><circle cx="350.0" cy="102.5" r="4.3"/><circle cx="366.2" cy="100.0" r="4.3"/><circle cx="368.8" cy="91.2" r="4.3"/><circle cx="375.0" cy="87.5" r="4.3"/><circle cx="371.2" cy="106.2" r="4.3"/><circle cx="376.9" cy="85.0" r="4.3"/><circle cx="368.4" cy="90.9" r="4.3"/><circle cx="373.5" cy="88.4" r="4.3"/><circle cx="379.5" cy="90.9" r="4.3"/><circle cx="386.3" cy="92.6" r="4.3"/><circle cx="388.0" cy="97.8" r="4.3"/><circle cx="366.7" cy="100.3" r="4.3"/><circle cx="375.2" cy="100.3" r="4.3"/><circle cx="371.8" cy="104.6" r="4.3"/><circle cx="388.8" cy="83.3" r="4.3"/><circle cx="397.4" cy="76.4" r="4.3"/><circle cx="411.0" cy="73.0" r="4.3"/><circle cx="410.1" cy="84.1" r="4.3"/><circle cx="396.5" cy="85.0" r="4.3"/><circle cx="399.0" cy="89.2" r="4.3"/><circle cx="422.1" cy="94.3" r="4.3"/><circle cx="422.9" cy="98.6" r="4.3"/><circle cx="421.7" cy="108.4" r="4.3"/><circle cx="376.2" cy="84.5" r="4.3"/><circle cx="387.5" cy="83.8" r="4.3"/><circle cx="386.2" cy="95.0" r="4.3"/><circle cx="388.8" cy="97.5" r="4.3"/><circle cx="471.0" cy="17.0" r="4.3"/><circle cx="490.5" cy="13.0" r="4.3"/><circle cx="486.5" cy="17.5" r="4.3"/><circle cx="489.0" cy="20.0" r="4.3"/><circle cx="479.0" cy="25.0" r="4.3"/><circle cx="469.0" cy="25.6" r="4.3"/><circle cx="449.0" cy="32.7" r="4.3"/><circle cx="454.0" cy="33.4" r="4.3"/><circle cx="447.0" cy="53.3" r="4.3"/><circle cx="447.0" cy="56.0" r="4.3"/><circle cx="452.0" cy="58.0" r="4.3"/><circle cx="455.0" cy="60.0" r="4.3"/><circle cx="465.0" cy="74.5" r="4.3"/><circle cx="237.0" cy="186.0" r="4.3"/><circle cx="421.0" cy="203.0" r="4.3"/><circle cx="619.7" cy="254.0" r="4.3"/><circle cx="196.5" cy="247.3" r="4.3"/><circle cx="198.0" cy="248.5" r="4.3"/><circle cx="210.5" cy="258.0" r="4.3"/><circle cx="213.0" cy="259.5" r="4.3"/><circle cx="216.0" cy="262.5" r="4.3"/><circle cx="219.0" cy="264.5" r="4.3"/><circle cx="222.5" cy="268.0" r="4.3"/><circle cx="226.0" cy="270.5" r="4.3"/><circle cx="229.0" cy="272.5" r="4.3"/><circle cx="235.0" cy="277.0" r="4.3"/><circle cx="237.5" cy="279.0" r="4.3"/><circle cx="237.5" cy="286.5" r="4.3"/><circle cx="241.5" cy="289.5" r="4.3"/><circle cx="246.0" cy="285.0" r="4.3"/><circle cx="248.5" cy="288.8" r="4.3"/><circle cx="245.0" cy="290.0" r="4.3"/><circle cx="240.0" cy="287.0" r="4.3"/><circle cx="195.9" cy="246.4" r="4.3"/><circle cx="198.6" cy="249.3" r="4.3"/><circle cx="209.1" cy="257.3" r="4.3"/><circle cx="211.8" cy="260.0" r="4.3"/><circle cx="214.0" cy="261.8" r="4.3"/><circle cx="215.9" cy="263.6" r="4.3"/><circle cx="217.5" cy="265.2" r="4.3"/><circle cx="222.0" cy="267.5" r="4.3"/><circle cx="224.3" cy="269.8" r="4.3"/><circle cx="227.7" cy="272.0" r="4.3"/><circle cx="230.0" cy="273.2" r="4.3"/><circle cx="234.5" cy="277.7" r="4.3"/><circle cx="236.4" cy="278.9" r="4.3"/><circle cx="236.8" cy="285.7" r="4.3"/><circle cx="239.0" cy="288.0" r="4.3"/><circle cx="242.5" cy="289.0" r="4.3"/><circle cx="244.8" cy="284.5" r="4.3"/><circle cx="248.2" cy="288.0" r="4.3"/><circle cx="247.0" cy="294.8" r="4.3"/><circle cx="241.0" cy="291.0" r="4.3"/></g><line x1="175" y1="116.48" x2="641" y2="116.48" stroke="#fb6f42" stroke-width="2" stroke-dasharray="7.5,3.55"/><line x1="175" y1="153.72" x2="641" y2="153.72" stroke="#6392ef" stroke-width="2" stroke-dasharray="7.5,3.55"/><line x1="175" y1="190.96" x2="641" y2="190.96" stroke="#fb6f42" stroke-width="2" stroke-dasharray="7.5,3.55"/><g stroke="#262626" stroke-width="1.2" fill="none"><line x1="175.2" y1="41.60" x2="175.2" y2="274.80"/><line x1="170.2" y1="41.60" x2="175.2" y2="41.60"/><line x1="170.2" y1="99.90" x2="175.2" y2="99.90"/><line x1="170.2" y1="158.20" x2="175.2" y2="158.20"/><line x1="170.2" y1="216.50" x2="175.2" y2="216.50"/><line x1="170.2" y1="274.80" x2="175.2" y2="274.80"/><line x1="201.30" y1="308.6" x2="610.45" y2="308.6"/><line x1="201.30" y1="308.6" x2="201.30" y2="313.6"/><line x1="259.75" y1="308.6" x2="259.75" y2="313.6"/><line x1="318.20" y1="308.6" x2="318.20" y2="313.6"/><line x1="376.65" y1="308.6" x2="376.65" y2="313.6"/><line x1="435.10" y1="308.6" x2="435.10" y2="313.6"/><line x1="493.55" y1="308.6" x2="493.55" y2="313.6"/><line x1="552.00" y1="308.6" x2="552.00" y2="313.6"/><line x1="610.45" y1="308.6" x2="610.45" y2="313.6"/></g><g font-family="Liberation Serif, serif" font-size="14" fill="#111" stroke="#111" stroke-width="0.3"><text x="165.4" y="46.90" text-anchor="end">100</text><text x="165.4" y="105.20" text-anchor="end">50</text><text x="165.4" y="163.50" text-anchor="end">0</text><text x="165.4" y="221.80" text-anchor="end">−50</text><text x="165.4" y="280.10" text-anchor="end">−100</text><text x="201.30" y="328" text-anchor="middle">40</text><text x="259.75" y="328" text-anchor="middle">60</text><text x="318.20" y="328" text-anchor="middle">80</text><text x="376.65" y="328" text-anchor="middle">100</text><text x="435.10" y="328" text-anchor="middle">120</text><text x="493.55" y="328" text-anchor="middle">140</text><text x="552.00" y="328" text-anchor="middle">160</text><text x="610.45" y="328" text-anchor="middle">180</text><text x="408" y="346.4" text-anchor="middle">Mean of methods (bpm)</text><text transform="translate(128,154.7) rotate(-90)" text-anchor="middle">Difference between methods (bpm)</text><text x="631.8" y="112.6" text-anchor="end">+1.96 SD</text><text x="631.8" y="128.3" text-anchor="end">35.78</text><text x="631.8" y="150.6" text-anchor="end">Mean</text><text x="631.8" y="164.8" text-anchor="end">3.84</text><text x="631.8" y="187" text-anchor="end">−28.10</text><text x="631.8" y="202.1" text-anchor="end">−1.96 SD</text></g></svg>
</body></html>
